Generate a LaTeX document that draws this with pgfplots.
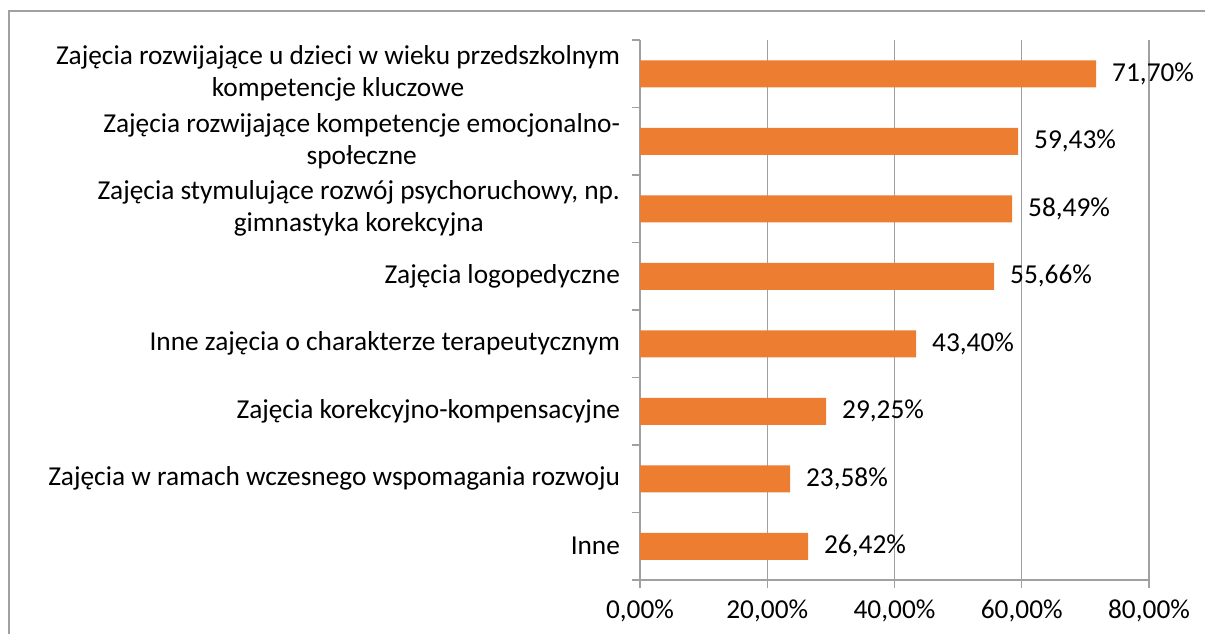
\documentclass[border=0pt]{standalone}
\usepackage{pgfplots}
\pgfplotsset{compat=1.18}
\usepackage{fontspec}
\setmainfont{Carlito}
\definecolor{barorange}{HTML}{ED7D31}
\definecolor{axgray}{HTML}{A0A0A0}
\begin{document}
\fontsize{20.5}{24}\selectfont
\begin{tikzpicture}[x=0.75pt,y=0.75pt]
\useasboundingbox (0,0) rectangle (1205,633);
\clip (0,0) rectangle (1205,633);
\draw[axgray, line width=1.1pt] (9,-10) -- (9,622) -- (1215,622);
\begin{axis}[
  at={(480pt,39.75pt)}, anchor=south west,
  xbar, scale only axis, width=381.75pt, height=405pt,
  xmin=0, xmax=80, ymin=-0.5, ymax=7.5,
  bar width=0.4,
  axis x line*=bottom, axis y line*=left,
  axis line style={axgray, line width=0.8pt, -},
  xtick={0,20,40,60,80},
  xmajorgrids, grid style={axgray, line width=0.8pt},
  ytick={0,...,7},
  minor ytick={-0.5,0.5,...,7.5},
  tick align=outside, major tick length=6pt, minor tick length=6pt,
  every major y tick/.append style={draw opacity=0},
  every tick/.append style={axgray, line width=0.8pt},
  every minor tick/.append style={axgray, line width=0.8pt},
  xticklabel={\pgfmathprintnumber[fixed,fixed zerofill,precision=2,use comma,assume math mode=true]{\tick}\%},
  every tick label/.append style={font=\fontsize{20.5}{24}\selectfont, text=black},
  x tick label style={yshift=-2pt},
  yticklabel style={align=center, xshift=-2pt},
  yticklabels={
    Inne,
    Zajęcia w ramach wczesnego wspomagania rozwoju,
    Zajęcia korekcyjno-kompensacyjne,
    Inne zajęcia o charakterze terapeutycznym,
    Zajęcia logopedyczne,
    {Zajęcia stymulujące rozwój psychoruchowy, np.\\gimnastyka korekcyjna},
    {Zajęcia rozwijające kompetencje emocjonalno-\\społeczne},
    {Zajęcia rozwijające u dzieci w wieku przedszkolnym\\kompetencje kluczowe}
  },
  point meta=x,
  nodes near coords={\pgfmathprintnumber[fixed,fixed zerofill,precision=2,use comma,assume math mode=true]{\pgfplotspointmeta}\%},
  nodes near coords align=horizontal,
  every node near coord/.append style={anchor=west, xshift=5pt, font=\fontsize{20.5}{24}\selectfont, text=black},
]
\addplot[draw=none, fill=barorange] coordinates {
  (26.42,0) (23.58,1) (29.25,2) (43.40,3) (55.66,4) (58.49,5) (59.43,6) (71.70,7)
};
\end{axis}
\end{tikzpicture}
\end{document}
